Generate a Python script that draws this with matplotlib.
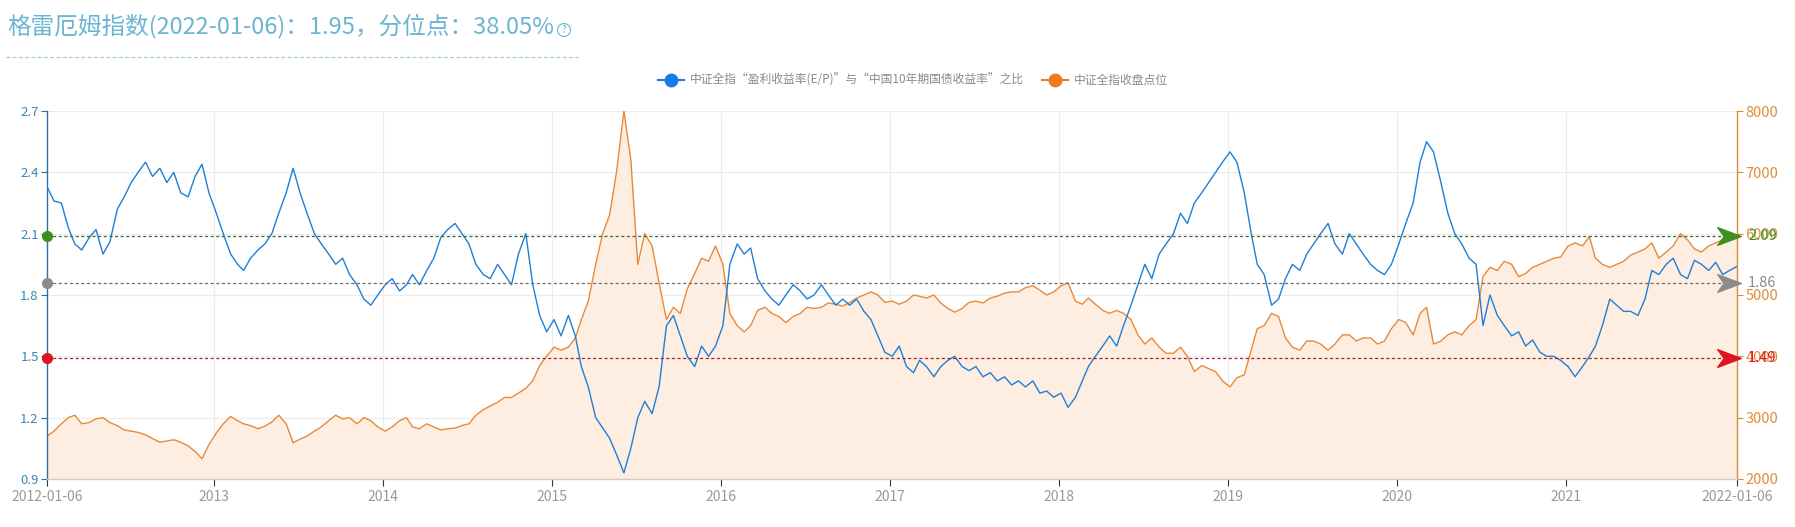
import numpy as np
import pandas as pd
import matplotlib
matplotlib.use('Agg')
import matplotlib.pyplot as plt
import matplotlib.dates as mdates
from matplotlib.path import Path
from matplotlib.lines import Line2D
import matplotlib.transforms as mtransforms

plt.rcParams['font.family'] = ['Noto Sans CJK SC', 'DejaVu Sans']

# ---------------- data (semi-monthly) ----------------
years = list(range(2012, 2022))

ratio_2012 = [2.33, 2.26, 2.25, 2.13, 2.05, 2.02, 2.08, 2.12, 2.00, 2.06, 2.22, 2.28,
              2.35, 2.40, 2.45, 2.38, 2.42, 2.35, 2.40, 2.30, 2.28, 2.38, 2.44, 2.30]
ratio_2013 = [2.20, 2.10, 2.00, 1.95, 1.92, 1.98, 2.02, 2.05, 2.10, 2.20, 2.30, 2.42,
              2.30, 2.20, 2.10, 2.05, 2.00, 1.95, 1.98, 1.90, 1.85, 1.78, 1.75, 1.80]
ratio_2014 = [1.85, 1.88, 1.82, 1.85, 1.90, 1.85, 1.92, 1.98, 2.08, 2.12, 2.15, 2.10,
              2.05, 1.95, 1.90, 1.88, 1.95, 1.90, 1.85, 2.00, 2.10, 1.85, 1.70, 1.62]
ratio_2015 = [1.68, 1.60, 1.70, 1.60, 1.45, 1.35, 1.20, 1.15, 1.10, 1.02, 0.93, 1.05,
              1.20, 1.28, 1.22, 1.35, 1.65, 1.70, 1.60, 1.50, 1.45, 1.55, 1.50, 1.55]
ratio_2016 = [1.65, 1.95, 2.05, 2.00, 2.03, 1.88, 1.82, 1.78, 1.75, 1.80, 1.85, 1.82,
              1.78, 1.80, 1.85, 1.80, 1.75, 1.78, 1.75, 1.78, 1.72, 1.68, 1.60, 1.52]
ratio_2017 = [1.50, 1.55, 1.45, 1.42, 1.48, 1.45, 1.40, 1.45, 1.48, 1.50, 1.45, 1.43,
              1.45, 1.40, 1.42, 1.38, 1.40, 1.36, 1.38, 1.35, 1.38, 1.32, 1.33, 1.30]
ratio_2018 = [1.32, 1.25, 1.30, 1.38, 1.45, 1.50, 1.55, 1.60, 1.55, 1.65, 1.75, 1.85,
              1.95, 1.88, 2.00, 2.05, 2.10, 2.20, 2.15, 2.25, 2.30, 2.35, 2.40, 2.45]
ratio_2019 = [2.50, 2.45, 2.30, 2.10, 1.95, 1.90, 1.75, 1.78, 1.88, 1.95, 1.92, 2.00,
              2.05, 2.10, 2.15, 2.05, 2.00, 2.10, 2.05, 2.00, 1.95, 1.92, 1.90, 1.95]
ratio_2020 = [2.05, 2.15, 2.25, 2.45, 2.55, 2.50, 2.35, 2.20, 2.10, 2.05, 1.98, 1.95,
              1.65, 1.80, 1.70, 1.65, 1.60, 1.62, 1.55, 1.58, 1.52, 1.50, 1.50, 1.48]
ratio_2021 = [1.45, 1.40, 1.45, 1.50, 1.55, 1.65, 1.78, 1.75, 1.72, 1.72, 1.70, 1.78,
              1.92, 1.90, 1.95, 1.98, 1.90, 1.88, 1.97, 1.95, 1.92, 1.96, 1.90, 1.92]
ratio_last = [1.94]

index_2012 = [2700, 2780, 2900, 3000, 3040, 2900, 2920, 2980, 3000, 2920, 2870, 2800,
              2780, 2760, 2720, 2660, 2600, 2620, 2640, 2600, 2540, 2450, 2330, 2560]
index_2013 = [2750, 2900, 3020, 2950, 2900, 2870, 2820, 2860, 2930, 3040, 2900, 2590,
              2650, 2700, 2780, 2850, 2950, 3040, 2980, 3000, 2900, 3000, 2950, 2850]
index_2014 = [2780, 2850, 2950, 3000, 2850, 2820, 2900, 2850, 2800, 2820, 2830, 2870,
              2900, 3040, 3130, 3190, 3250, 3330, 3330, 3400, 3480, 3600, 3850, 4000]
index_2015 = [4150, 4100, 4150, 4300, 4600, 4900, 5500, 6000, 6300, 7000, 8000, 7200,
              5500, 6000, 5800, 5200, 4600, 4800, 4700, 5100, 5350, 5600, 5550, 5800]
index_2016 = [5500, 4700, 4500, 4400, 4500, 4750, 4800, 4700, 4650, 4550, 4650, 4700,
              4800, 4780, 4800, 4870, 4850, 4820, 4880, 4950, 5000, 5050, 5000, 4880]
index_2017 = [4900, 4850, 4900, 5000, 4980, 4950, 5000, 4870, 4780, 4720, 4780, 4880,
              4900, 4870, 4950, 4980, 5030, 5050, 5050, 5120, 5150, 5080, 5000, 5050]
index_2018 = [5150, 5200, 4900, 4850, 4950, 4850, 4750, 4700, 4750, 4700, 4600, 4350,
              4200, 4300, 4150, 4050, 4050, 4150, 4000, 3750, 3850, 3800, 3750, 3600]
index_2019 = [3500, 3650, 3700, 4100, 4450, 4500, 4700, 4650, 4300, 4150, 4100, 4250,
              4250, 4200, 4100, 4200, 4350, 4350, 4250, 4300, 4300, 4200, 4250, 4450]
index_2020 = [4600, 4550, 4350, 4700, 4800, 4200, 4250, 4350, 4400, 4350, 4500, 4600,
              5300, 5450, 5400, 5550, 5500, 5300, 5350, 5450, 5500, 5550, 5600, 5620]
index_2021 = [5800, 5850, 5800, 5950, 5600, 5500, 5450, 5500, 5550, 5650, 5700, 5750,
              5850, 5600, 5700, 5800, 6000, 5900, 5750, 5700, 5800, 5850, 5900, 5900]
index_last = [5960]

ref_values = [2.09, 1.86, 1.49]
ref_colors = ['#3f8f1f', '#8c8c8c', '#e0141e']
ref_line_colors = ['#3d6b2a', '#6e6e6e', '#a3262a']

left_ticks = [0.9, 1.2, 1.5, 1.8, 2.1, 2.4, 2.7]
right_ticks = [2000, 3000, 4000, 5000, 6000, 7000, 8000]
x_tick_dates = ['2012-01-06', '2013-01-01', '2014-01-01', '2015-01-01', '2016-01-01',
                '2017-01-01', '2018-01-01', '2019-01-01', '2020-01-01', '2021-01-01',
                '2022-01-06']
x_tick_labels = ['2012-01-06', '2013', '2014', '2015', '2016', '2017', '2018', '2019',
                 '2020', '2021', '2022-01-06']

title_text = '格雷厄姆指数(2022-01-06)：1.95，分位点：38.05%'
legend_labels = ['中证全指“盈利收益率(E/P)”与“中国10年期国债收益率”之比', '中证全指收盘点位']

# ---------------- assemble ----------------
date_strs = []
for y in years:
    for m in range(1, 13):
        date_strs.append(f'{y}-{m:02d}-06')
        date_strs.append(f'{y}-{m:02d}-21')
date_strs.append('2022-01-06')
dates = pd.to_datetime(date_strs)

ratio = np.array(ratio_2012 + ratio_2013 + ratio_2014 + ratio_2015 + ratio_2016 +
                 ratio_2017 + ratio_2018 + ratio_2019 + ratio_2020 + ratio_2021 + ratio_last)
index = np.array(index_2012 + index_2013 + index_2014 + index_2015 + index_2016 +
                 index_2017 + index_2018 + index_2019 + index_2020 + index_2021 + index_last)

# ---------------- figure ----------------
W, H = 1795, 527
fig = plt.figure(figsize=(W / 100, H / 100), dpi=100)
L, R, T, B = 47, 1737, 111, 479
ax = fig.add_axes([L / W, 1 - B / H, (R - L) / W, (B - T) / H])
ax2 = ax.twinx()

blue = '#1f7fd6'
orange = '#e8893a'
fill_c = '#fdeee1'
axis_blue = '#2a6fa8'
label_blue = '#3a86b5'
axis_orange = '#d98a3a'
label_orange = '#e08c3c'

x0 = pd.Timestamp('2012-01-06')
x1 = pd.Timestamp('2022-01-06')

# orange index with area fill (right axis)
ax2.fill_between(dates, index, 2000, color=fill_c, lw=0, zorder=1)
ax2.plot(dates, index, color=orange, lw=1.0, zorder=2)
ax2.set_ylim(2000, 8000)
ax2.set_yticks(right_ticks)

# blue ratio on left axis, drawn above
ax.set_zorder(ax2.get_zorder() + 1)
ax.patch.set_visible(False)
ax.plot(dates, ratio, color=blue, lw=1.0, zorder=3)
ax.set_ylim(0.9, 2.7)
ax.set_yticks(left_ticks)
ax.set_yticklabels([f'{v:.1f}' for v in left_ticks])
ax.set_xlim(x0, x1)

# grids
for v in left_ticks[1:]:
    ax2.axhline(2000 + (v - 0.9) / 0.3 * 1000, color='#ececec', lw=0.8, zorder=0)
xt = pd.to_datetime(x_tick_dates)
for d in xt[1:-1]:
    ax2.axvline(d, color='#ececec', lw=0.8, zorder=0)

ax.set_xticks(xt)
ax.set_xticklabels(x_tick_labels)

# axis styling
for s in ['top']:
    ax.spines[s].set_visible(False)
    ax2.spines[s].set_visible(False)
ax.spines['right'].set_visible(False)
ax2.spines['left'].set_visible(False)
ax2.spines['bottom'].set_visible(False)
ax.spines['left'].set_color(axis_blue)
ax.spines['left'].set_linewidth(1.0)
ax2.spines['right'].set_color(axis_orange)
ax2.spines['right'].set_linewidth(1.0)
ax.spines['bottom'].set_color('#cccccc')
ax.spines['bottom'].set_linewidth(1.0)

ax.tick_params(axis='y', colors=axis_blue, labelcolor=label_blue, labelsize=9.5,
               length=4, width=0.8, pad=2)
ax2.tick_params(axis='y', colors=axis_orange, labelcolor=label_orange, labelsize=10.5,
                length=4, width=0.8, pad=2)
ax.tick_params(axis='x', colors='#333333', labelcolor='#999999', labelsize=10,
               length=5, width=0.8, pad=3)

# reference lines with markers
arrow_path = Path([(1, 0), (-1, 0.75), (-0.45, 0), (-1, -0.75), (1, 0)],
                  [Path.MOVETO, Path.LINETO, Path.LINETO, Path.LINETO, Path.CLOSEPOLY])
off = mtransforms.ScaledTranslation(-8 / 100, 0, fig.dpi_scale_trans)
for v, c, lc in zip(ref_values, ref_colors, ref_line_colors):
    ax.plot([x0, x1], [v, v], color=lc, lw=0.9, ls=(0, (2.5, 2)), zorder=4)
    ax.plot([x0], [v], marker='o', ms=7, color=c, mec=c, clip_on=False, zorder=6)
    ax.plot([x1], [v], marker=arrow_path, ms=17, color=c, mec=c, clip_on=False,
            zorder=6, transform=ax.transData + off)
    ax.annotate(f'{v:.2f}', xy=(1, v), xycoords=('axes fraction', 'data'),
                xytext=(8, 0), textcoords='offset points', va='center', ha='left',
                color=c, fontsize=10.5, annotation_clip=False)

# legend
handles = [Line2D([], [], color='#1a7be6', marker='o', ms=9, lw=1.5, mec='#1a7be6'),
           Line2D([], [], color='#ef7a22', marker='o', ms=9, lw=1.5, mec='#ef7a22')]
fig.legend(handles, legend_labels, loc='center', bbox_to_anchor=(913 / W, 1 - 80 / H),
           ncol=2, frameon=False, fontsize=8.5, labelcolor='#8a8a8a', handlelength=2.2,
           handletextpad=0.5, columnspacing=1.5)

# title
title_c = '#6bb5d2'
fig.text(7 / W, 1 - 26 / H, title_text, color=title_c, fontsize=17, ha='left',
         va='center')
fig.text(564 / W, 1 - 30 / H, '?', color=title_c, fontsize=7, ha='center', va='center',
         bbox=dict(boxstyle='circle,pad=0.15', fc='none', ec=title_c, lw=0.8))
fig.add_artist(Line2D([6 / W, 578 / W], [1 - 57 / H, 1 - 57 / H], color='#9ccde0',
                      lw=0.9, ls=(0, (3, 2))))

fig.savefig('out.png', dpi=100)
